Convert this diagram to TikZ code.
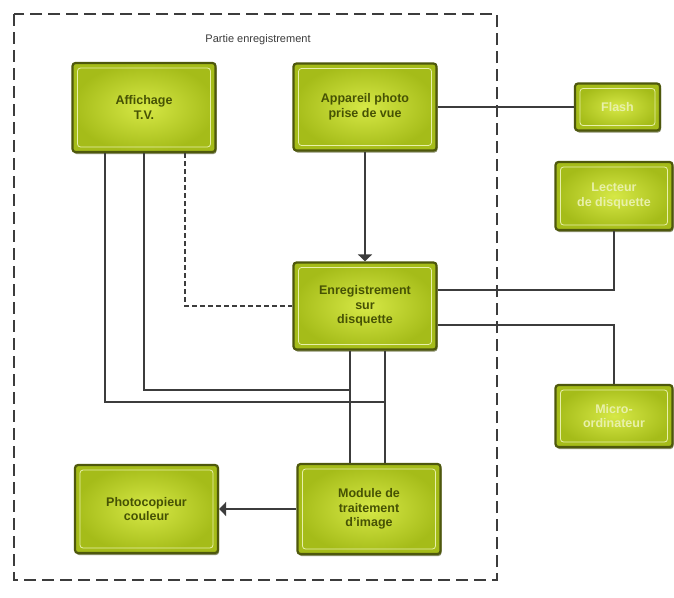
\documentclass[tikz,border=0pt]{standalone}
\usepackage{fontspec}
\setmainfont{Liberation Sans}
\usetikzlibrary{arrows.meta,calc,shadows}
\definecolor{limeL}{RGB}{214,232,70}
\definecolor{limeD}{RGB}{165,188,25}
\definecolor{edgeC}{RGB}{78,88,12}
\definecolor{innerC}{RGB}{232,240,170}
\definecolor{txtC}{RGB}{70,82,4}
\definecolor{lineC}{RGB}{60,60,60}
\definecolor{frameC}{RGB}{60,60,60}
\tikzset{
  blockbox/.style={rectangle, rounded corners=3pt, draw=edgeC, line width=2.2pt,
    inner color=limeL, outer color=limeD, align=center,
    font=\bfseries\fontsize{12.5}{14.5}\selectfont, text=txtC,
    drop shadow={shadow xshift=1pt, shadow yshift=-2pt, fill=edgeC!80!black, opacity=0.6},
    path picture={\draw[innerC, line width=0.8pt]
      ($(path picture bounding box.south west)+(5pt,5pt)$) rectangle
      ($(path picture bounding box.north east)+(-5pt,-5pt)$);}},
  sidebox/.style={blockbox, text=innerC},
  wire/.style={draw=lineC, line width=1.2pt},
  tip/.style={-{Triangle[width=14pt,length=7pt]}}
}
\begin{document}
\begin{tikzpicture}[x=1pt,y=-1pt]
\useasboundingbox (0,0) rectangle (674,597);
\fill[white] (0,0) rectangle (674,597);
\draw[frameC, line width=2pt, dash pattern=on 12pt off 6pt] (14,14) rectangle (497,580);
\node[font=\fontsize{11}{13}\selectfont, text=frameC] (lbl) at (258,40) {Partie enregistrement};

\node[blockbox, minimum width=143pt, minimum height=89pt] (tv) at (144,107.5) {Affichage\\T.V.};
\node[blockbox, minimum width=143pt, minimum height=87pt] (photo) at (365,107) {Appareil photo\\prise de vue};
\node[blockbox, minimum width=143pt, minimum height=87pt] (enreg) at (365,306) {Enregistrement\\sur\\disquette};
\node[blockbox, minimum width=143pt, minimum height=90pt] (module) at (369,509) {Module de\\traitement\\d'image};
\node[blockbox, minimum width=143pt, minimum height=88pt] (copie) at (146.5,509) {Photocopieur\\couleur};
\node[sidebox, minimum width=85pt, minimum height=47pt] (r1) at (617.5,107) {Flash};
\node[sidebox, minimum width=117pt, minimum height=68pt] (r2) at (614,196) {Lecteur\\de disquette};
\node[sidebox, minimum width=117pt, minimum height=62pt] (r3) at (614,416) {Micro-\\ordinateur};

\coordinate (j1) at (350,390);
\coordinate (j2) at (385,402);

\draw[wire, tip] (photo.south) -- (enreg.north);
\draw[wire] (photo.east) -- (r1.west);
\draw[wire, dash pattern=on 5pt off 3pt] ([xshift=41pt]tv.south) |- (enreg.west);
\draw[wire] (tv.south) |- (j1);
\draw[wire] ([xshift=-39pt]tv.south) |- (j2);
\draw[wire] ([xshift=-15pt]enreg.south) -- ([xshift=-19pt]module.north);
\draw[wire] ([xshift=20pt]enreg.south) -- ([xshift=16pt]module.north);
\draw[wire, tip] (module.west) -- (copie.east);
\draw[wire] ([yshift=16pt]enreg.east) -| (r2.south);
\draw[wire] ([yshift=-19pt]enreg.east) -| (r3.north);
\end{tikzpicture}
\end{document}
